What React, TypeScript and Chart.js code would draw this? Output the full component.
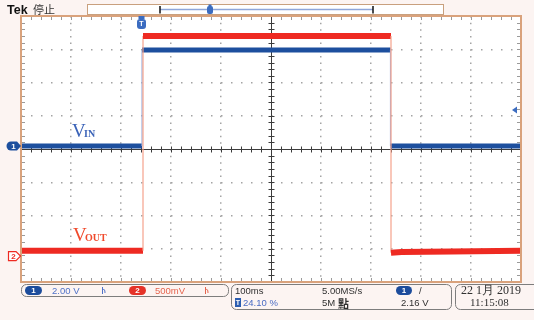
import React, { useEffect, useRef } from "react";
import { Chart, registerables } from "chart.js";
Chart.register(...registerables);

// ---- acquisition settings ----
const RECORD_MS = 1000; // 10 div x 100 ms/div
const TIME_PER_DIV_MS = 100;
const TRIGGER_POS_PCT = 24.1;
const CH1_VOLTS_PER_DIV = 2.0;
const CH2_VOLTS_PER_DIV = 0.5;
const CH1_POSITION_DIV = 0.09;
const CH2_POSITION_DIV = -3.22;
const TRIGGER_LEVEL_V = 2.16;
const Y_DIVS = [-4, 4];

// ---- waveforms: time relative to trigger (ms), volts ----
const vinTimeMs = [-241, 1, 1, 498, 498, 759];
const vinVolts = [0, 0, 5.77, 5.77, 0, 0];
const voutTimeMs = [-241, 3, 3, 499, 499, 520, 620, 759];
const voutVolts = [0.08, 0.08, 3.31, 3.31, 0.05, 0.06, 0.07, 0.08];

// ---- status texts ----
const CH1_SCALE_TEXT = "2.00 V";
const CH2_SCALE_TEXT = "500mV";
const TIMEBASE_TEXT = "100ms";
const SAMPLE_RATE_TEXT = "5.00MS/s";
const RECORD_LEN_TEXT = "5M 點";
const TRIG_POS_TEXT = "24.10 %";
const TRIG_LEVEL_TEXT = "2.16 V";
const DATE_TEXT = "22 1月 2019";
const TIME_TEXT = "11:15:08";

const BG = "#fcf4f2";
const BORDER = "#d9a27c";
const BLUE = "#1d4f9e";
const BLUE_EDGE = "#9db2e0";
const RED = "#ee2a22";
const RED_EDGE = "#f5a28c";
const LABEL_BLUE = "#3b63b8";
const LABEL_RED = "#f04a2c";
const SANS = '"Liberation Sans", Arial, sans-serif';
const SERIF = '"Liberation Serif", "Times New Roman", serif';
const CJK = '"Noto Sans CJK TC", "Noto Sans CJK SC", sans-serif';

function pill(ctx: CanvasRenderingContext2D, x: number, y: number, w: number, h: number, fill: string, text: string) {
  ctx.beginPath();
  ctx.roundRect(x, y, w, h, h / 2);
  ctx.fillStyle = fill;
  ctx.fill();
  ctx.fillStyle = "#fff";
  ctx.font = `bold 8px ${SANS}`;
  ctx.textAlign = "center";
  ctx.textBaseline = "middle";
  ctx.fillText(text, x + w / 2, y + h / 2 + 0.5);
  ctx.textAlign = "left";
}

function txt(ctx: CanvasRenderingContext2D, s: string, x: number, y: number, color: string, font: string) {
  ctx.fillStyle = color;
  ctx.font = font;
  ctx.textAlign = "left";
  ctx.textBaseline = "middle";
  ctx.fillText(s, x, y);
}

const scopePlugin = {
  id: "scope",
  beforeDraw(chart: any) {
    const { ctx, chartArea: a, width, height } = chart;
    ctx.save();
    ctx.fillStyle = BG;
    ctx.fillRect(0, 0, width, height);
    ctx.fillStyle = "#ffffff";
    ctx.fillRect(a.left, a.top, a.right - a.left, a.bottom - a.top);
    ctx.restore();
  },
  beforeDatasetsDraw(chart: any) {
    const { ctx, chartArea: a } = chart;
    const xs = chart.scales.x;
    const ys = chart.scales.y;
    ctx.save();
    const cx = Math.round(xs.getPixelForValue(RECORD_MS / 2)) + 0.5;
    const cy = Math.round(ys.getPixelForValue(0)) + 0.5;
    // edge ticks
    ctx.strokeStyle = "#9a9a9a";
    ctx.lineWidth = 1;
    ctx.beginPath();
    for (let t = 0; t <= RECORD_MS + 0.01; t += TIME_PER_DIV_MS / 5) {
      const x = Math.round(xs.getPixelForValue(t)) + 0.5;
      ctx.moveTo(x, a.top);
      ctx.lineTo(x, a.top + 4);
      ctx.moveTo(x, a.bottom);
      ctx.lineTo(x, a.bottom - 4);
    }
    for (let v = Y_DIVS[0]; v <= Y_DIVS[1] + 0.01; v += 0.2) {
      const y = Math.round(ys.getPixelForValue(v)) + 0.5;
      ctx.moveTo(a.left, y);
      ctx.lineTo(a.left + 4, y);
      ctx.moveTo(a.right, y);
      ctx.lineTo(a.right - 4, y);
    }
    ctx.stroke();
    // crosshair
    ctx.strokeStyle = "#3c3c3c";
    ctx.beginPath();
    ctx.moveTo(a.left, cy);
    ctx.lineTo(a.right, cy);
    ctx.moveTo(cx, a.top);
    ctx.lineTo(cx, a.bottom);
    for (let t = 0; t <= RECORD_MS + 0.01; t += TIME_PER_DIV_MS / 5) {
      const x = Math.round(xs.getPixelForValue(t)) + 0.5;
      ctx.moveTo(x, cy - 3);
      ctx.lineTo(x, cy + 3);
    }
    for (let v = Y_DIVS[0]; v <= Y_DIVS[1] + 0.01; v += 0.2) {
      const y = Math.round(ys.getPixelForValue(v)) + 0.5;
      ctx.moveTo(cx - 3, y);
      ctx.lineTo(cx + 3, y);
    }
    ctx.stroke();
    ctx.restore();
  },
  afterDatasetsDraw(chart: any) {
    const { ctx, chartArea: a } = chart;
    const xs = chart.scales.x;
    const ys = chart.scales.y;
    ctx.save();
    ctx.strokeStyle = BORDER;
    ctx.lineWidth = 2;
    ctx.strokeRect(a.left, a.top, a.right - a.left, a.bottom - a.top);

    // channel ground markers
    const g1 = ys.getPixelForValue(CH1_POSITION_DIV);
    ctx.beginPath();
    ctx.moveTo(11, g1 - 4.5);
    ctx.lineTo(17, g1 - 4.5);
    ctx.lineTo(21, g1);
    ctx.lineTo(17, g1 + 4.5);
    ctx.lineTo(11, g1 + 4.5);
    ctx.arc(11, g1, 4.5, Math.PI / 2, (3 * Math.PI) / 2);
    ctx.closePath();
    ctx.fillStyle = BLUE;
    ctx.fill();
    ctx.fillStyle = "#fff";
    ctx.font = `bold 8px ${SANS}`;
    ctx.textAlign = "center";
    ctx.textBaseline = "middle";
    ctx.fillText("1", 13.5, g1 + 0.5);

    const g2 = ys.getPixelForValue(CH2_POSITION_DIV);
    ctx.beginPath();
    ctx.moveTo(8.5, g2 - 4.5);
    ctx.lineTo(16, g2 - 4.5);
    ctx.lineTo(20.5, g2);
    ctx.lineTo(16, g2 + 4.5);
    ctx.lineTo(8.5, g2 + 4.5);
    ctx.closePath();
    ctx.fillStyle = "#fff";
    ctx.fill();
    ctx.strokeStyle = RED;
    ctx.lineWidth = 1.2;
    ctx.stroke();
    ctx.fillStyle = RED;
    ctx.fillText("2", 13.5, g2 + 0.5);

    // trigger position marker
    const tx = xs.getPixelForValue((RECORD_MS * TRIGGER_POS_PCT) / 100);
    ctx.fillStyle = "#3b6cc0";
    ctx.beginPath();
    ctx.roundRect(tx - 4.5, a.top + 3, 9, 10, 3);
    ctx.fill();
    ctx.fillRect(tx - 3, a.top, 6, 3);
    ctx.fillStyle = "#fff";
    ctx.font = `bold 7px ${SANS}`;
    ctx.fillText("T", tx, a.top + 8.5);

    // trigger level marker
    const ty = ys.getPixelForValue(TRIGGER_LEVEL_V / CH1_VOLTS_PER_DIV + CH1_POSITION_DIV);
    ctx.fillStyle = "#3b6cc0";
    ctx.beginPath();
    ctx.moveTo(a.right - 9, ty);
    ctx.lineTo(a.right - 4, ty - 3.5);
    ctx.lineTo(a.right - 4, ty + 3.5);
    ctx.closePath();
    ctx.fill();

    // trace labels
    ctx.textAlign = "left";
    ctx.textBaseline = "alphabetic";
    ctx.fillStyle = LABEL_BLUE;
    ctx.font = `19px ${SERIF}`;
    ctx.fillText("V", 72, 137);
    ctx.font = `bold 10px ${SERIF}`;
    ctx.fillText("IN", 84, 137);
    ctx.fillStyle = LABEL_RED;
    ctx.font = `19px ${SERIF}`;
    ctx.fillText("V", 73, 241);
    ctx.font = `bold 10px ${SERIF}`;
    ctx.fillText("OUT", 85, 241);
    ctx.restore();
  },
  afterDraw(chart: any) {
    const { ctx } = chart;
    ctx.save();
    // header
    ctx.textBaseline = "alphabetic";
    ctx.fillStyle = "#111";
    ctx.font = `bold 12.5px ${SANS}`;
    ctx.fillText("Tek", 7, 14);
    ctx.font = `11px ${CJK}`;
    ctx.fillStyle = "#333";
    ctx.fillText("停止", 33, 14);

    // record bar
    ctx.strokeStyle = "#c9a07e";
    ctx.lineWidth = 1;
    ctx.fillStyle = "#ffffff";
    ctx.fillRect(87.5, 4.5, 356, 10);
    ctx.strokeRect(87.5, 4.5, 356, 10);
    ctx.strokeStyle = "#8ea6da";
    ctx.lineWidth = 1.5;
    ctx.beginPath();
    ctx.moveTo(160, 9.5);
    ctx.lineTo(373, 9.5);
    ctx.stroke();
    ctx.strokeStyle = "#111";
    ctx.lineWidth = 1.5;
    ctx.beginPath();
    ctx.moveTo(160, 6);
    ctx.lineTo(160, 13.5);
    ctx.moveTo(373, 6);
    ctx.lineTo(373, 13.5);
    ctx.stroke();
    ctx.fillStyle = "#3b6cc0";
    ctx.beginPath();
    ctx.roundRect(207, 6, 6, 8, 2);
    ctx.fill();
    ctx.fillRect(208.5, 4.5, 3, 2);

    // status boxes
    ctx.strokeStyle = "#7d7d7d";
    ctx.lineWidth = 1;
    ctx.beginPath();
    ctx.roundRect(21.5, 284.5, 207, 12, 5);
    ctx.stroke();
    ctx.beginPath();
    ctx.roundRect(231.5, 284.5, 220, 25, 5);
    ctx.stroke();
    ctx.beginPath();
    ctx.roundRect(455.5, 284.5, 90, 25, 5);
    ctx.stroke();

    const f = `9.5px ${SANS}`;
    pill(ctx, 25, 286, 17, 9, "#1c4c9c", "1");
    txt(ctx, CH1_SCALE_TEXT, 52, 291, "#5072c8", f);
    // coupling icons
    ctx.lineWidth = 1;
    ctx.strokeStyle = "#5072c8";
    ctx.beginPath();
    ctx.moveTo(102.5, 287);
    ctx.lineTo(102.5, 294);
    ctx.moveTo(102.5, 290);
    ctx.quadraticCurveTo(105, 288, 105, 293);
    ctx.stroke();
    pill(ctx, 129, 286, 17, 9, "#e53228", "2");
    txt(ctx, CH2_SCALE_TEXT, 155, 291, "#e5654f", f);
    ctx.strokeStyle = "#e5654f";
    ctx.beginPath();
    ctx.moveTo(205.5, 287);
    ctx.lineTo(205.5, 294);
    ctx.moveTo(205.5, 290);
    ctx.quadraticCurveTo(208, 288, 208, 293);
    ctx.stroke();

    txt(ctx, TIMEBASE_TEXT, 235, 291, "#303030", f);
    txt(ctx, SAMPLE_RATE_TEXT, 322, 291, "#303030", f);
    pill(ctx, 396, 286, 16, 9, "#1c4c9c", "1");
    txt(ctx, "/", 419, 291, "#303030", f);

    ctx.fillStyle = "#2b5db0";
    ctx.fillRect(235, 298, 6, 9);
    ctx.fillStyle = "#fff";
    ctx.font = `bold 7px ${SANS}`;
    ctx.textAlign = "center";
    ctx.textBaseline = "middle";
    ctx.fillText("T", 238, 303);
    txt(ctx, TRIG_POS_TEXT, 243, 303.5, "#4a6cc4", f);
    txt(ctx, RECORD_LEN_TEXT.split(" ")[0], 322, 303.5, "#303030", f);
    txt(ctx, RECORD_LEN_TEXT.split(" ")[1], 338, 303.5, "#303030", `bold 11px ${CJK}`);
    txt(ctx, TRIG_LEVEL_TEXT, 401, 303.5, "#303030", f);

    txt(ctx, DATE_TEXT, 461, 291, "#303030", `12px ${SERIF}`);
    txt(ctx, TIME_TEXT, 470, 303.5, "#303030", `11px ${SERIF}`);
    ctx.restore();
  },
};

export default function App() {
  const ref = useRef<HTMLCanvasElement>(null);
  useEffect(() => {
    const canvas = ref.current;
    if (!canvas) return;
    const trigMs = (RECORD_MS * TRIGGER_POS_PCT) / 100;
    const vinData = vinTimeMs.map((t, i) => ({ x: t + trigMs, y: vinVolts[i] / CH1_VOLTS_PER_DIV + CH1_POSITION_DIV }));
    const voutData = voutTimeMs.map((t, i) => ({ x: t + trigMs, y: voutVolts[i] / CH2_VOLTS_PER_DIV + CH2_POSITION_DIV }));
    const isVert = (c: any) => c.p0.parsed.x === c.p1.parsed.x;
    const chart = new Chart(canvas, {
      type: "line",
      data: {
        datasets: [
          {
            label: "VOUT",
            data: voutData,
            borderColor: RED,
            borderWidth: 6,
            borderCapStyle: "butt",
            pointRadius: 0,
            tension: 0,
            segment: {
              borderWidth: (c: any) => (isVert(c) ? 1.2 : 6),
              borderColor: (c: any) => (isVert(c) ? RED_EDGE : RED),
            },
          },
          {
            label: "VIN",
            data: vinData,
            borderColor: BLUE,
            borderWidth: 5,
            borderCapStyle: "butt",
            pointRadius: 0,
            tension: 0,
            segment: {
              borderWidth: (c: any) => (isVert(c) ? 1.2 : 5),
              borderColor: (c: any) => (isVert(c) ? BLUE_EDGE : BLUE),
            },
          },
        ],
      },
      options: {
        responsive: false,
        animation: false,
        devicePixelRatio: 1,
        events: [],
        layout: { padding: { left: 21, right: 13, top: 16, bottom: 38 } },
        plugins: { legend: { display: false }, tooltip: { enabled: false } },
        scales: {
          x: {
            type: "linear",
            min: 0,
            max: RECORD_MS,
            ticks: { display: false, stepSize: TIME_PER_DIV_MS },
            grid: {
              drawTicks: false,
              lineWidth: 1.5,
              color: (c: any) =>
                c.tick && (c.tick.value === 0 || c.tick.value === RECORD_MS || c.tick.value === RECORD_MS / 2)
                  ? "rgba(0,0,0,0)"
                  : "#a4a4a4",
            },
            border: { display: false, dash: [1.5, 5.15] },
          },
          y: {
            type: "linear",
            min: Y_DIVS[0],
            max: Y_DIVS[1],
            ticks: { display: false, stepSize: 1 },
            grid: {
              drawTicks: false,
              lineWidth: 1.5,
              color: (c: any) =>
                c.tick && (c.tick.value === Y_DIVS[0] || c.tick.value === Y_DIVS[1] || c.tick.value === 0)
                  ? "rgba(0,0,0,0)"
                  : "#a4a4a4",
            },
            border: { display: false, dash: [1.5, 8.5] },
          },
        },
      },
      plugins: [scopePlugin],
    } as any);
    return () => chart.destroy();
  }, []);
  return (
    <div style={{ position: "absolute", left: 0, top: 0, width: 534, height: 320 }}>
      <canvas ref={ref} width={534} height={320} style={{ display: "block", width: 534, height: 320 }} />
    </div>
  );
}
